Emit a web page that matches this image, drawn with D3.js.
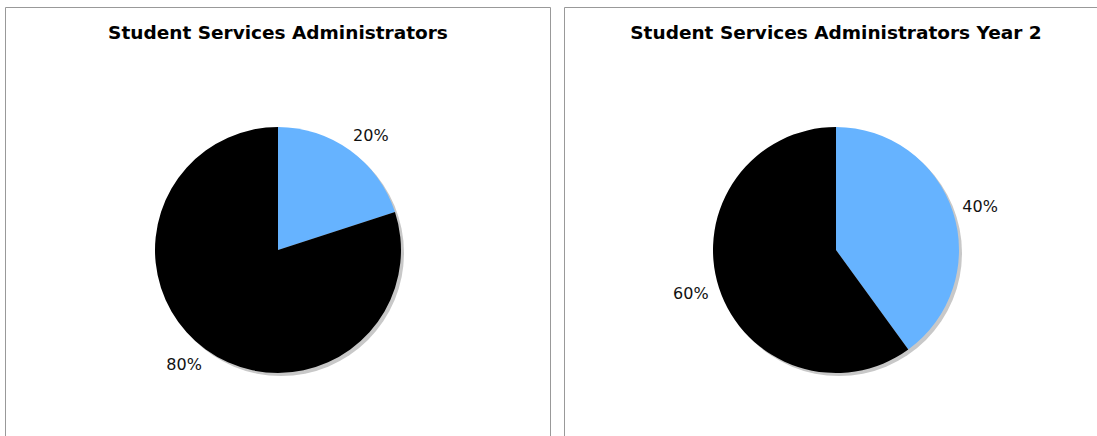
<!DOCTYPE html>
<html><head><meta charset="utf-8">
<script src="https://cdn.jsdelivr.net/npm/d3@7"></script>
<style>body{margin:0;background:#fff;}svg{display:block;}</style>
</head><body>
<svg id="c" width="1097" height="436"></svg>
<script>
const titles = ["Student Services Administrators", "Student Services Administrators Year 2"];
const categories = ["A", "B"];
const valuesYear1 = [20, 80];
const valuesYear2 = [40, 60];
const colors = ["#66b3ff", "#000000"];

const svg = d3.select("#c");
const panels = [
  {x0: 5, x1: 550, cx: 278, title: titles[0], values: valuesYear1},
  {x0: 564, x1: 1100, cx: 836, title: titles[1], values: valuesYear2}
];
const cy = 250, R = 123, LR = 141;
const color = d3.scaleOrdinal().domain(categories).range(colors);
const pie = d3.pie().sort(null).value(d => d.v);
const arc = d3.arc().innerRadius(0).outerRadius(R);
const labelArc = d3.arc().innerRadius(LR).outerRadius(LR);

panels.forEach(p => {
  svg.append("path")
    .attr("d", `M${p.x0+0.5},440 V${7.5} H${p.x1+0.5}` + (p.x1 < 1097 ? ` V440` : ""))
    .attr("fill", "none").attr("stroke", "#999").attr("stroke-width", 1);
  svg.append("text").attr("x", p.cx).attr("y", 39)
    .attr("text-anchor", "middle").attr("font-family", "DejaVu Sans").attr("font-weight", "bold")
    .attr("font-size", 18.5).text(p.title);
  const g = svg.append("g").attr("transform", `translate(${p.cx},${cy})`);
  g.append("circle").attr("cx", 3).attr("cy", 3).attr("r", R).attr("fill", "#c8c8c8");
  const data = pie(p.values.map((v, i) => ({k: categories[i], v})));
  g.selectAll("path.s").data(data).enter().append("path").attr("class", "s")
    .attr("d", arc).attr("fill", d => color(d.data.k));
  g.selectAll("text.l").data(data).enter().append("text").attr("class", "l")
    .attr("transform", d => {
      const [x, y] = labelArc.centroid(d);
      return `translate(${x + (x >= 0 ? 10 : -11)},${y})`;
    })
    .attr("text-anchor", "middle").attr("dominant-baseline", "central")
    .attr("font-family", "DejaVu Sans").attr("font-size", 16).attr("fill", "#111")
    .text(d => d.data.v + "%");
});
</script>
</body></html>
